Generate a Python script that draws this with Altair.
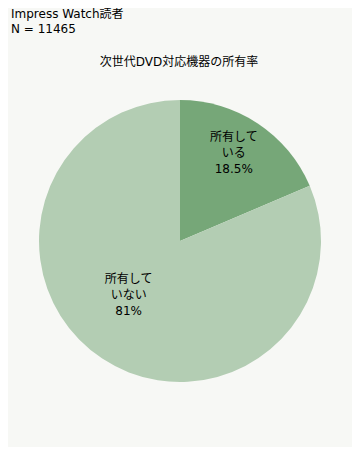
import altair as alt
import pandas as pd

# ---- data ----
categories = ["所有している", "所有していない"]
values = [18.5, 81]
labels = ["所有して\nいる\n18.5%", "所有して\nいない\n81%"]
colors = ["#76a778", "#b3cdb3"]
order = [0, 1]

header_lines = ["Impress Watch読者", "N = 11465"]
chart_title = "次世代DVD対応機器の所有率"

FONT = "Verdana, 'DejaVu Sans', 'Noto Sans CJK JP'"
BG = "#f7f8f5"

df = pd.DataFrame({"cat": categories, "value": values, "label": labels, "ord": order})

base = alt.Chart(df)

theta = alt.Theta("value:Q", stack=True)
color = alt.Color("cat:N", scale=alt.Scale(domain=categories, range=colors), legend=None)

pie = base.mark_arc(outerRadius=141, stroke=None).encode(
    theta=theta,
    color=color,
    order=alt.Order("ord:Q"),
    x=alt.value(172),
    y=alt.value(233),
)

def label_layer(cat, r, dx, dy):
    return base.mark_text(
        radius=r, dx=dx, dy=dy, font=FONT, fontSize=12, color="#000000",
        lineBreak="\n", lineHeight=16, align="center", baseline="middle",
    ).encode(
        theta=theta,
        order=alt.Order("ord:Q"),
        text=alt.condition(alt.datum.cat == cat, alt.Text("label:N"), alt.value("")),
        x=alt.value(172),
        y=alt.value(233),
    )

lab1 = label_layer(categories[0], 103, -3, -18)
lab2 = label_layer(categories[1], 75, -10, -25)

def text_line(t, x, y, align):
    return alt.Chart(pd.DataFrame({"t": [t]})).mark_text(
        font=FONT, fontSize=12, color="#000000", align=align, baseline="alphabetic"
    ).encode(text="t:N", x=alt.value(x), y=alt.value(y))

header1 = text_line(header_lines[0], 3, 10, "left")
header2 = text_line(header_lines[1], 3, 25, "left")
title = text_line(chart_title, 171, 58, "center")

chart = alt.layer(pie, lab1, lab2, header1, header2, title).properties(
    width=344, height=439, padding=0, background=BG
).configure_view(stroke=None)

chart.save("out.html", embed_options={"renderer": "svg", "actions": False})
